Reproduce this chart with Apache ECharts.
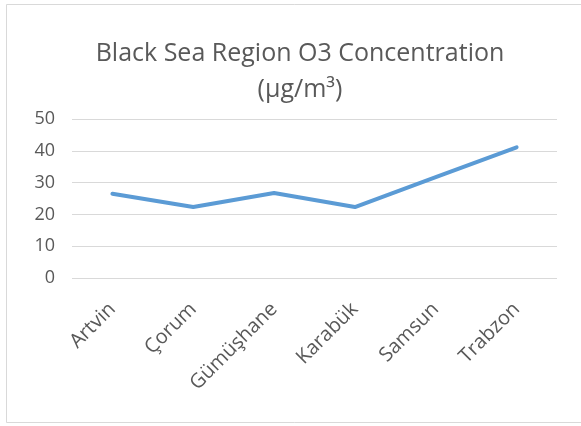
<!DOCTYPE html>
<html>
<head>
<meta charset="utf-8">
<script src="https://cdn.jsdelivr.net/npm/echarts@6/dist/echarts.min.js"></script>
<style>
  html, body { margin: 0; padding: 0; background: #ffffff; }
  #chart { width: 581px; height: 426px; }
</style>
</head>
<body>
<div id="chart"></div>
<script>
// Provinces along the Black Sea coast
const cities = ['Artvin', 'Çorum', 'Gümüşhane', 'Karabük', 'Samsun', 'Trabzon'];
// Mean O3 concentration, µg/m³
const o3Values = [26.5, 22.3, 26.7, 22.3, 31.7, 41.1];
const yTicks = [0, 10, 20, 30, 40, 50];

const textColor = '#595959';
const fontFamily = '"Open Sans", "DejaVu Sans", sans-serif';

const chart = echarts.init(document.getElementById('chart'), null, { renderer: 'canvas' });
chart.setOption({
  backgroundColor: '#ffffff',
  animation: false,
  graphic: [{
    type: 'rect',
    shape: { x: 6.5, y: 4.5, width: 600, height: 418 },
    style: { fill: 'none', stroke: '#d9d9d9', lineWidth: 1 },
    z: -1
  }],
  title: {
    text: 'Black Sea Region O3 Concentration\n(µg/m³)',
    left: 295,
    textAlign: 'center',
    top: 31,
    textStyle: {
      color: textColor,
      fontFamily: fontFamily,
      fontWeight: 'normal',
      fontSize: 25,
      lineHeight: 36
    }
  },
  grid: { left: 72, right: 24, top: 119, bottom: 148, containLabel: false },
  xAxis: {
    type: 'category',
    data: cities,
    boundaryGap: true,
    axisLine: { show: false },
    axisTick: { show: false },
    axisLabel: {
      rotate: 45,
      color: textColor,
      fontFamily: fontFamily,
      fontSize: 20,
      margin: 28,
      interval: 0
    }
  },
  yAxis: {
    type: 'value',
    min: yTicks[0],
    max: yTicks[yTicks.length - 1],
    interval: 10,
    axisLine: { show: false },
    axisTick: { show: false },
    axisLabel: {
      color: textColor,
      fontFamily: fontFamily,
      fontSize: 18,
      margin: 17
    },
    splitLine: { lineStyle: { color: '#d9d9d9', width: 1 } }
  },
  series: [{
    type: 'line',
    data: o3Values,
    symbol: 'none',
    lineStyle: { color: '#5b9bd5', width: 4, cap: 'round', join: 'round' }
  }]
});
</script>
</body>
</html>
